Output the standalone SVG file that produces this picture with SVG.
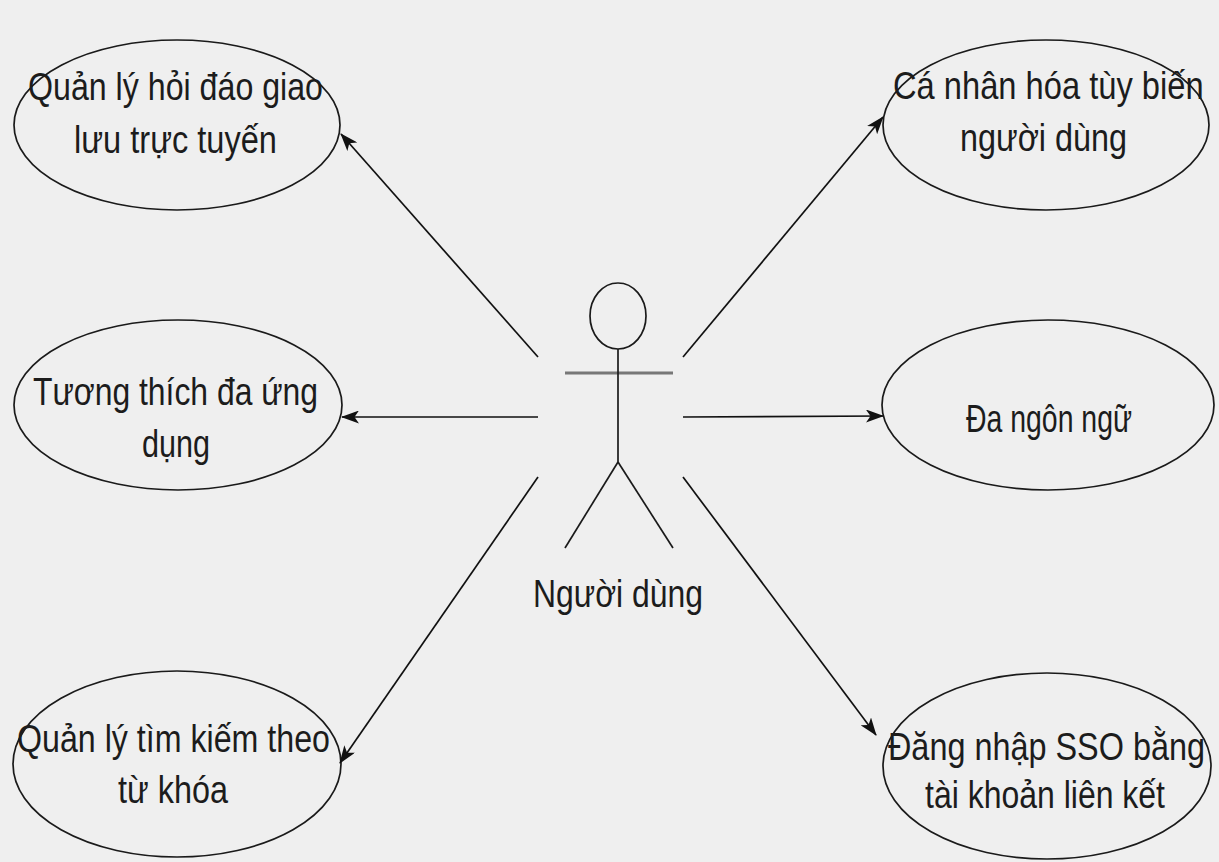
<svg xmlns="http://www.w3.org/2000/svg" width="1219" height="862" viewBox="0 0 1219 862">
  <style>
    .uc { fill: none; stroke: #1a1a1a; stroke-width: 1.7; }
    .lbl { font-family: "Liberation Sans", Arial, sans-serif; font-size: 38px; fill: #1c1c1c; }
    .edge { fill: none; stroke: #111; stroke-width: 1.7; }
    .actor { fill: none; stroke: #1a1a1a; stroke-width: 1.7; }
  </style>
  <defs>
    <marker id="arrow" viewBox="0 0 18 13" refX="17" refY="6.5" markerWidth="18" markerHeight="13" markerUnits="userSpaceOnUse" orient="auto">
      <path d="M0,0 L18,6.5 L0,13 L4.5,6.5 Z" fill="#111"/>
    </marker>
  </defs>

  <rect x="0" y="0" width="1219" height="862" fill="#efefef"/>

  <!-- actor -->
  <g id="actor">
    <ellipse class="actor" cx="618" cy="316" rx="28" ry="33"/>
    <line x1="565" y1="373" x2="673" y2="373" stroke="#777" stroke-width="3"/>
    <line class="actor" x1="618" y1="349" x2="618" y2="462"/>
    <line class="actor" x1="618" y1="462" x2="565" y2="548"/>
    <line class="actor" x1="618" y1="462" x2="673" y2="548"/>
    <text class="lbl" x="533" y="607" textLength="170" lengthAdjust="spacingAndGlyphs">Người dùng</text>
  </g>

  <!-- use cases -->
  <g id="uc-forum">
    <ellipse class="uc" cx="177" cy="125" rx="163" ry="85"/>
    <text class="lbl" x="28" y="100" textLength="295" lengthAdjust="spacingAndGlyphs">Quản lý hỏi đáo giao</text>
    <text class="lbl" x="74" y="153" textLength="203" lengthAdjust="spacingAndGlyphs">lưu trực tuyến</text>
  </g>

  <g id="uc-compat">
    <ellipse class="uc" cx="178" cy="405" rx="164" ry="85"/>
    <text class="lbl" x="33" y="405" textLength="285" lengthAdjust="spacingAndGlyphs">Tương thích đa ứng</text>
    <text class="lbl" x="142" y="457" textLength="68" lengthAdjust="spacingAndGlyphs">dụng</text>
  </g>

  <g id="uc-search">
    <ellipse class="uc" cx="177" cy="764" rx="164" ry="93"/>
    <text class="lbl" x="17" y="752" textLength="313" lengthAdjust="spacingAndGlyphs">Quản lý tìm kiếm theo</text>
    <text class="lbl" x="118" y="803" textLength="110" lengthAdjust="spacingAndGlyphs">từ khóa</text>
  </g>

  <g id="uc-personalize">
    <ellipse class="uc" cx="1046" cy="125" rx="163" ry="85"/>
    <!-- condensed by a horizontal scale -->
    <text class="lbl" transform="scale(0.86 1)" x="1038.4" y="99">Cá nhân hóa tùy biến</text>
    <text class="lbl" x="960" y="151" textLength="167" lengthAdjust="spacingAndGlyphs">người dùng</text>
  </g>

  <g id="uc-language">
    <ellipse class="uc" cx="1048" cy="405" rx="166" ry="85"/>
    <text class="lbl" x="966" y="432" textLength="166" lengthAdjust="spacingAndGlyphs">Đa ngôn ngữ</text>
  </g>

  <g id="uc-sso">
    <ellipse class="uc" cx="1047" cy="766" rx="164" ry="93"/>
    <text class="lbl" transform="scale(0.853 1)" x="1041" y="760">Đăng nhập SSO bằng</text>
    <text class="lbl" x="925" y="808" textLength="240" lengthAdjust="spacingAndGlyphs">tài khoản liên kết</text>
  </g>

  <!-- associations -->
  <g id="connectors">
    <line class="edge" x1="538" y1="357" x2="341" y2="134" marker-end="url(#arrow)"/>
    <line class="edge" x1="538" y1="417" x2="342" y2="417" marker-end="url(#arrow)"/>
    <line class="edge" x1="538" y1="477" x2="340" y2="763" marker-end="url(#arrow)"/>
    <line class="edge" x1="683" y1="357" x2="883" y2="117" marker-end="url(#arrow)"/>
    <line class="edge" x1="683" y1="417" x2="883" y2="416" marker-end="url(#arrow)"/>
    <line class="edge" x1="683" y1="477" x2="876" y2="735" marker-end="url(#arrow)"/>
  </g>
</svg>
